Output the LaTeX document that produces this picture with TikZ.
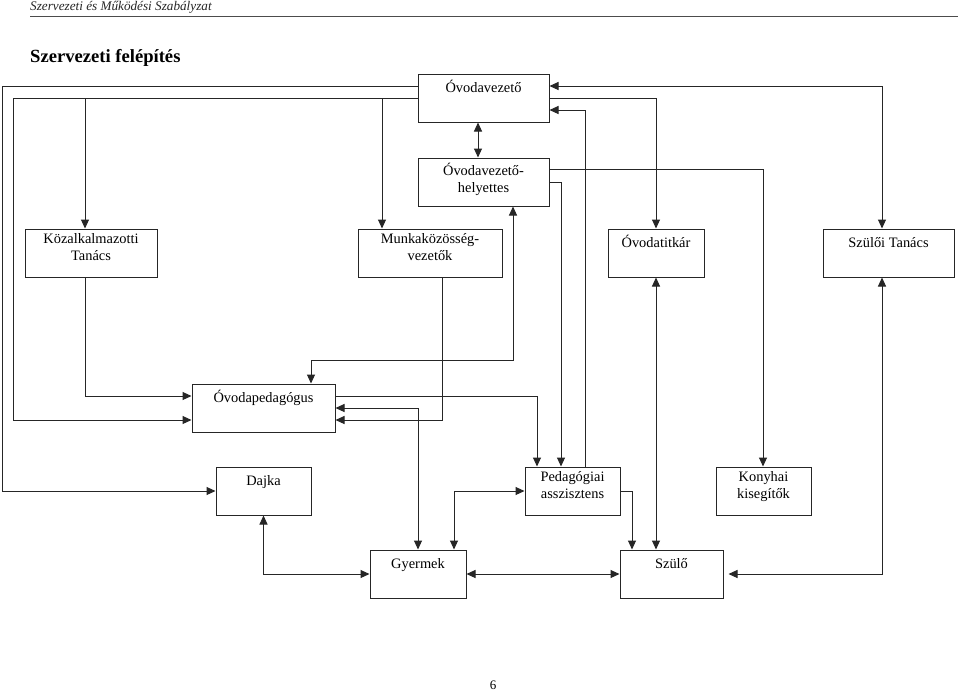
\documentclass[tikz,border=0pt]{standalone}
\usepackage{fontspec}
\setmainfont{Liberation Serif}
\usetikzlibrary{arrows.meta}
\begin{document}
\begin{tikzpicture}[x=1pt,y=-1pt,
  box/.style={draw=black!85, line width=1pt, inner sep=0pt, minimum height=48pt},
  lbl/.style={anchor=north, inner sep=0pt, align=center,
    font=\fontsize{14.4}{17}\selectfont, execute at begin node={\rule{0pt}{14pt}}},
  conn/.style={draw=black!85, line width=1pt},
  arr/.style={conn, -{Triangle[length=9pt,width=8pt]}},
  dbl/.style={conn, {Triangle[length=9pt,width=8pt]}-{Triangle[length=9pt,width=8pt]}}]
\useasboundingbox[fill=white] (0,0) rectangle (960,691);

% header
\node[anchor=base west, inner sep=0pt, text=black!85, font=\itshape\fontsize{13.2}{15}\selectfont] (hdr) at (30,10) {Szervezeti és Működési Szabályzat};
\draw[line width=0.7pt, black!70] (30,16) -- (958,16);
\node[anchor=base west, inner sep=0pt, font=\bfseries\fontsize{18.6}{22}\selectfont] (title) at (30,62) {Szervezeti felépítés};
\node[anchor=base, inner sep=0pt, font=\fontsize{13}{15}\selectfont] (pg) at (493,689) {6};

% boxes
\node[box, minimum width=131pt] (ov)   at (483.5,98)  {};
\node[box, minimum width=131pt] (hely) at (483.5,182) {};
\node[box, minimum width=132pt] (kt)   at (91,253)    {};
\node[box, minimum width=144pt] (mv)   at (430,253)   {};
\node[box, minimum width=96pt]  (tit)  at (656,253)   {};
\node[box, minimum width=131pt] (szt)  at (888.5,253) {};
\node[box, minimum width=143pt] (ped)  at (263.5,408) {};
\node[box, minimum width=95pt]  (daj)  at (263.5,491) {};
\node[box, minimum width=95pt]  (pa)   at (572.5,491) {};
\node[box, minimum width=95pt]  (kony) at (763.5,491) {};
\node[box, minimum width=96pt]  (gy)   at (418,574)   {};
\node[box, minimum width=103pt] (sz)   at (671.5,574) {};

% labels
\node[lbl] (ov-t)   at ([yshift=-5pt]ov.north)   {Óvodavezető};
\node[lbl] (hely-t) at ([yshift=-5pt]hely.north) {Óvodavezető-\\helyettes};
\node[lbl] (kt-t)   at ([yshift=-5pt]kt.north)   {Közalkalmazotti\\Tanács};
\node[lbl] (mv-t)   at ([yshift=-5pt]mv.north)   {Munkaközösség-\\vezetők};
\node[lbl] (tit-t)  at ([yshift=-5pt]tit.north)  {Óvodatitkár};
\node[lbl] (szt-t)  at ([yshift=-5pt]szt.north)  {Szülői Tanács};
\node[lbl] (ped-t)  at ([yshift=-5pt]ped.north)  {Óvodapedagógus};
\node[lbl] (daj-t)  at ([yshift=-5pt]daj.north)  {Dajka};
\node[lbl] (pa-t)   at ([yshift=-5pt]pa.north)   {Pedagógiai\\asszisztens};
\node[lbl] (kony-t) at ([yshift=-5pt]kony.north) {Konyhai\\kisegítők};
\node[lbl] (gy-t)   at ([yshift=-5pt]gy.north)   {Gyermek};
\node[lbl] (sz-t)   at ([yshift=-5pt]sz.north)   {Szülő};

% connectors
\draw[dbl] (ov.south -| 478,0) -- (hely.north -| 478,0);
\draw[arr] (ov.west |- 0,86) -- (2,86) -- (2,491) -- (daj.west);
\draw[arr] (ov.west |- 0,98) -- (13,98) -- (13,420) -- (ped.west |- 0,420);
\draw[arr] (85,98) -- (kt.north -| 85,0);
\draw[arr] (382,98) -- (mv.north -| 382,0);
\draw[arr] (kt.south -| 85,0) -- (85,396) -- (ped.west |- 0,396);
\draw[arr] (mv.south -| 442,0) -- (442,420) -- (ped.east |- 0,420);
\draw[dbl] (ov.east |- 0,86) -- (882,86) -- (szt.north -| 882,0);
\draw[arr] (ov.east |- 0,98) -- (656,98) -- (tit.north);
\draw[arr] (pa.north -| 585,0) -- (585,110) -- (ov.east |- 0,110);
\draw[arr] (hely.east |- 0,169) -- (763,169) -- (kony.north -| 763,0);
\draw[arr] (hely.east |- 0,182) -- (561,182) -- (pa.north -| 561,0);
\draw[dbl] (hely.south -| 513,0) -- (513,360) -- (311,360) -- (ped.north -| 311,0);
\draw[arr] (ped.east |- 0,396) -- (537,396) -- (pa.north -| 537,0);
\draw[dbl] (ped.east |- 0,408) -- (418,408) -- (gy.north);
\draw[dbl] (pa.west) -- (454,491) -- (gy.north -| 454,0);
\draw[dbl] (daj.south) -- (daj.south |- gy.west) -- (gy.west);
\draw[dbl] (gy.east) -- (sz.west);
\draw[arr] (pa.east) -- (632,491) -- (sz.north -| 632,0);
\draw[dbl] (tit.south) -- (sz.north -| 656,0);
\draw[dbl] (szt.south -| 882,0) -- (882,574) -- ([xshift=5pt]sz.east);
\end{tikzpicture}
\end{document}
